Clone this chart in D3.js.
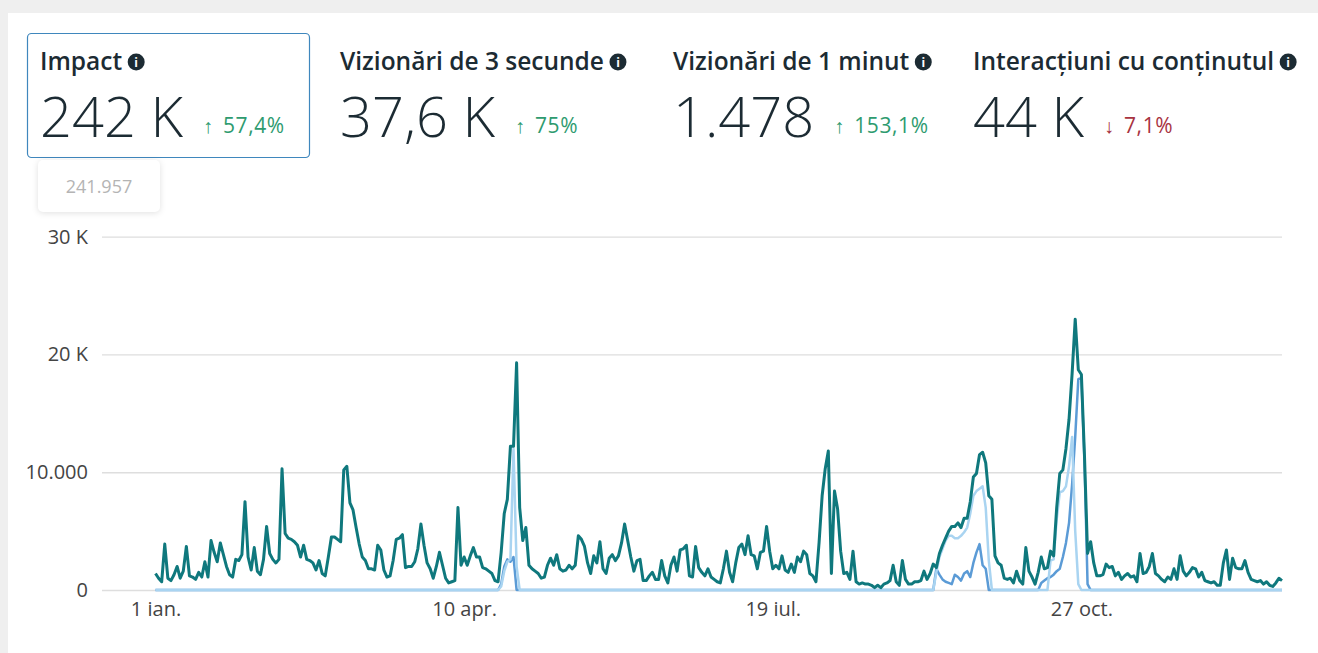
<!DOCTYPE html>
<html>
<head>
<meta charset="utf-8">
<script src="https://cdn.jsdelivr.net/npm/d3@7"></script>
<style>
  body { margin: 0; background: #efefef; font-family: "Open Sans", sans-serif; }
  svg { display: block; }
</style>
</head>
<body>
<svg id="chart" width="1318" height="653"></svg>
<script>
// header metrics
var metricTitles = ["Impact", "Vizionări de 3 secunde", "Vizionări de 1 minut", "Interacțiuni cu conținutul"];
var metricValues = ["242 K", "37,6 K", "1.478", "44 K"];
var metricChanges = ["57,4%", "75%", "153,1%", "7,1%"];
var metricUp = [true, true, true, false];
var tooltipValue = "241.957";

// axis ticks
var yTickValues = [0, 10000, 20000, 30000];
var yTickLabels = ["0", "10.000", "20 K", "30 K"];
var xTickDates = ["2024-01-01", "2024-04-10", "2024-07-19", "2024-10-27"];
var xTickLabels = ["1 ian.", "10 apr.", "19 iul.", "27 oct."];

// daily impact, 1 jan -> 31 dec 2024
var impact = [
  1400, 1000, 700, 3900, 1000, 800, 1300, 2000, 1000, 1600,
  3700, 1200, 1100, 900, 1500, 1100, 2400, 1100, 4200, 3200,
  2400, 4000, 3000, 2000, 1300, 1100, 2600, 2500, 3000, 7500,
  2800, 1700, 3600, 1600, 1300, 2600, 5400, 3100, 2600, 2300,
  2600, 10300, 4800, 4400, 4300, 4100, 3800, 2800, 3800, 2600,
  2500, 2300, 1700, 2500, 1400, 1200, 2800, 4500, 4500, 4300,
  4100, 10200, 10500, 7400, 6800, 5300, 3900, 2800, 2500, 1800,
  1800, 1700, 3800, 3400, 1700, 1100, 1200, 2500, 4300, 4400,
  4700, 1900, 2000, 2000, 2400, 3500, 5600, 3800, 2300, 1800,
  1000, 2000, 3200, 2100, 1000, 600, 700, 800, 7000, 2100,
  2800, 2100, 2900, 3600, 2800, 2800, 1900, 1800, 1600, 1400,
  800, 700, 3200, 6500, 7700, 12200, 12200, 19300, 7000, 4200,
  5300, 2100, 1800, 1600, 1400, 1000, 1100, 2100, 2700, 2100,
  3000, 1800, 1600, 1700, 2100, 1800, 2100, 4600, 4300, 3700,
  2300, 1400, 2900, 2300, 4100, 1800, 1400, 2700, 3000, 2500,
  2900, 4000, 5600, 4200, 2800, 1600, 2500, 2600, 800, 800,
  1200, 1500, 900, 900, 2500, 1200, 600, 2100, 2800, 1600,
  3400, 3500, 3800, 1200, 1100, 3700, 1900, 1500, 1200, 1800,
  1100, 900, 700, 600, 1800, 3300, 1500, 700, 2300, 3600,
  3900, 3000, 4600, 3000, 2900, 1800, 3200, 3300, 5400, 3300,
  1800, 2100, 1800, 2900, 1700, 1500, 2200, 1500, 2800, 2400,
  3300, 3000, 1400, 1200, 700, 4000, 8000, 10300, 11800, 1400,
  8400, 6900, 3300, 1400, 1500, 900, 3300, 700, 500, 600,
  500, 500, 400, 200, 400, 200, 500, 600, 800, 2100,
  700, 400, 2500, 900, 500, 500, 700, 700, 800, 1600,
  900, 1400, 2200, 1900, 3100, 3800, 4400, 5000, 5400, 5400,
  5700, 5300, 6100, 6100, 7500, 9600, 9900, 11500, 11700, 10800,
  8000, 7700, 2900, 2300, 2100, 1000, 900, 1000, 600, 1600,
  800, 500, 3600, 1600, 1100, 500, 1500, 2800, 1800, 1900,
  3300, 2900, 7000, 9900, 10200, 12000, 14500, 18400, 23000, 18700,
  18300, 11400, 3100, 4100, 2300, 1200, 1200, 1300, 2200, 1900,
  2000, 1200, 1500, 900, 1200, 1400, 1100, 1200, 700, 3100,
  1400, 1500, 2000, 3100, 1400, 1200, 900, 700, 1100, 900,
  1800, 900, 2900, 1600, 1200, 1500, 1900, 1800, 1100, 1500,
  800, 700, 600, 700, 400, 400, 2300, 3400, 900, 2700,
  1900, 1800, 1800, 2500, 1500, 900, 800, 700, 800, 500,
  700, 400, 300, 600, 1000, 800
];

// light blue series: zero except these runs (start = day index)
var lightStarts = [112, 253, 290];
var lightRuns = [
  [300, 1600, 2400, 2600, 12000, 2000],
  [1500, 2800, 3500, 4200, 4600, 4600, 4400, 4400, 4600, 4900, 5300, 6500, 8000, 8400, 8600, 8800, 7000, 2500],
  [2500, 2600, 6000, 8300, 8400, 8800, 10500, 13000, 5000, 500]
];

// mid blue series: zero except these runs
var midStarts = [112, 253, 287];
var midRuns = [
  [500, 2000, 2600, 2400, 2800],
  [1800, 1300, 900, 700, 600, 500, 1300, 1100, 800, 1400, 1600, 1100, 2300, 3200, 3900, 2100, 1800],
  [600, 800, 1000, 1100, 1300, 1600, 1800, 2800, 4000, 5700, 9000, 13000, 17900, 18000, 11000, 500]
];

var days = d3.timeDay.range(new Date(2024, 0, 1), new Date(2025, 0, 1));

function expand(starts, runs) {
  var out = days.map(function() { return 0; });
  starts.forEach(function(s, i) {
    runs[i].forEach(function(v, j) { out[s + j] = v; });
  });
  return out;
}
var light = expand(lightStarts, lightRuns);
var mid = expand(midStarts, midRuns);

var svg = d3.select("#chart");

// page panel
svg.append("rect").attr("width", 1318).attr("height", 653).attr("fill", "#efefef");
svg.append("rect").attr("x", 8).attr("y", 13).attr("width", 1310).attr("height", 640).attr("fill", "#fff");

// selected card + tooltip
svg.append("rect")
  .attr("x", 27.5).attr("y", 33.5).attr("width", 282).attr("height", 124).attr("rx", 4)
  .attr("fill", "#fff").attr("stroke", "#3f87bd").attr("stroke-width", 1.2);

svg.append("rect")
  .attr("x", 38).attr("y", 160).attr("width", 122).attr("height", 52).attr("rx", 5)
  .attr("fill", "#fff")
  .style("filter", "drop-shadow(0 1px 3px rgba(0,0,0,0.12))");
svg.append("text")
  .attr("x", 99).attr("y", 193).attr("text-anchor", "middle")
  .attr("font-size", 18).attr("fill", "#b4b4b4")
  .text(tooltipValue);

// header metrics
var metricX = [40, 340, 673, 973];
metricTitles.forEach(function(t, i) {
  var g = svg.append("g").attr("transform", "translate(" + metricX[i] + ",0)");
  var title = g.append("text")
    .attr("y", 70).attr("font-size", 24.5).attr("font-weight", 600).attr("fill", "#1c2b33")
    .text(t);
  var tw = title.node().getComputedTextLength();
  var icon = g.append("g").attr("transform", "translate(" + (tw + 14) + ",62)");
  icon.append("circle").attr("r", 8.5).attr("fill", "#1c2b33");
  icon.append("text").attr("y", 4.5).attr("text-anchor", "middle")
    .attr("font-size", 12).attr("font-weight", 700).attr("fill", "#fff").text("i");

  var val = g.append("text")
    .attr("y", 137).attr("font-size", 56).attr("font-weight", 300).attr("fill", "#1c2b33")
    .text(metricValues[i]);
  var vw = val.node().getComputedTextLength();
  var col = metricUp[i] ? "#2e9b6f" : "#a8333f";
  g.append("text")
    .attr("x", vw + 20).attr("y", 133).attr("font-size", 20).attr("fill", col)
    .text(metricUp[i] ? "\u2191" : "\u2193");
  g.append("text")
    .attr("x", vw + 40).attr("y", 133).attr("font-size", 21).attr("fill", col)
    .attr("letter-spacing", 0.6)
    .text(metricChanges[i]);
});

// scales
var parse = d3.timeParse("%Y-%m-%d");
var x = d3.scaleTime()
  .domain([days[0], days[days.length - 1]])
  .range([155.5, 1282]);
var y = d3.scaleLinear()
  .domain([0, 30000])
  .range([590, 236.7]);

// y axis with grid
var yAxis = svg.append("g")
  .attr("transform", "translate(102,0)")
  .call(d3.axisLeft(y)
    .tickValues(yTickValues)
    .tickSize(-(1282 - 102))
    .tickPadding(14)
    .tickFormat(function(d, i) { return yTickLabels[i]; }));
yAxis.select(".domain").remove();
yAxis.selectAll(".tick line").attr("stroke", "#dedede").attr("stroke-width", 1.3);
yAxis.selectAll(".tick text")
  .attr("font-family", "Open Sans").attr("font-size", 20).attr("fill", "#444");

// x axis labels
var xAxis = svg.append("g")
  .attr("transform", "translate(0,602)")
  .call(d3.axisBottom(x)
    .tickValues(xTickDates.map(parse))
    .tickSize(0)
    .tickPadding(0)
    .tickFormat(function(d, i) { return xTickLabels[i]; }));
xAxis.select(".domain").remove();
xAxis.selectAll(".tick text")
  .attr("font-family", "Open Sans").attr("font-size", 20).attr("fill", "#444");

// lines
var line = d3.line()
  .x(function(d, i) { return x(days[i]); })
  .y(function(d) { return y(d); });

svg.append("path").datum(mid)
  .attr("d", line).attr("fill", "none")
  .attr("stroke", "#5b9bd6").attr("stroke-width", 2.5).attr("stroke-linejoin", "round");

svg.append("path").datum(light)
  .attr("d", line).attr("fill", "none")
  .attr("stroke", "#a9d4f1").attr("stroke-width", 2.5).attr("stroke-linejoin", "round");

svg.append("path").datum(impact)
  .attr("d", line).attr("fill", "none")
  .attr("stroke", "#0f787d").attr("stroke-width", 3).attr("stroke-linejoin", "round");
</script>
</body>
</html>
